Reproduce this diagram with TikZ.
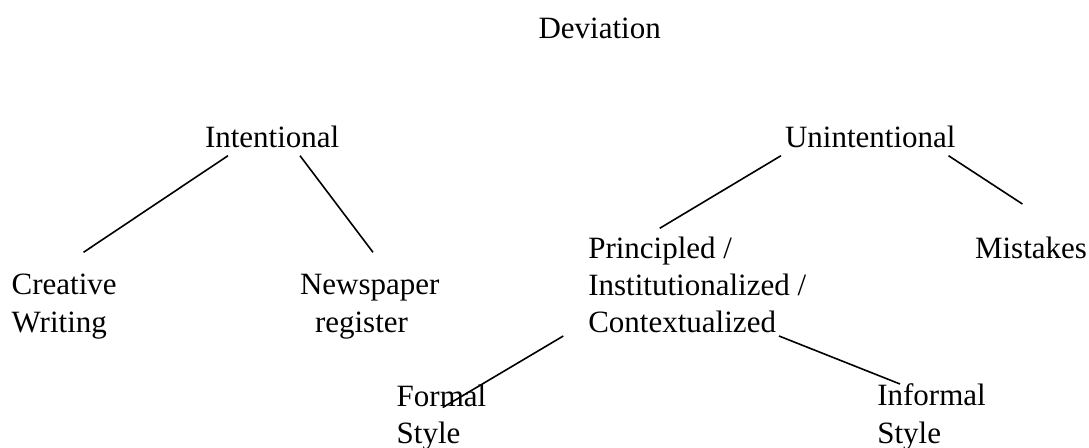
\documentclass[tikz,border=0pt]{standalone}
\usepackage{fontspec}
\setmainfont{Liberation Serif}
\usetikzlibrary{calc}
\tikzset{
  txt/.style={inner sep=0pt, outer sep=0pt, anchor=base west, font=\fontsize{31}{37.5}\selectfont},
  link/.style={line width=1.6pt, black}
}
\begin{document}
\begin{tikzpicture}[x=1pt, y=-1pt]
\useasboundingbox (0,0) rectangle (1089,447);
% nodes
\node[txt] (dev) at (538.5,38) {Deviation};
\node[txt] (int) at (205,147) {Intentional};
\node[txt] (unint) at (785,147) {Unintentional};
\node[txt] (cre) at (11.7,294) {Creative};
\node[txt] (wri) at (11.7,332) {Writing};
\node[txt] (news) at (300,294) {Newspaper};
\node[txt] (reg) at (315,332) {register};
\node[txt] (pri) at (588.3,258) {Principled /};
\node[txt] (ins) at (588.3,295) {Institutionalized /};
\node[txt] (con) at (588.3,332) {Contextualized};
\node[txt] (mis) at (975,258) {Mistakes};
\node[txt] (frm) at (396.7,406) {Formal};
\node[txt] (fsty) at (396.7,443.5) {Style};
\node[txt] (inf) at (877.3,405.5) {Informal};
\node[txt] (isty) at (877.3,443.5) {Style};
% connectors
\draw[link] ($(int.base west)+(23,8.7)$) -- ($(cre.base west)+(71.8,-41.7)$);
\draw[link] ($(int.base west)+(95,8.7)$) -- ($(news.base west)+(73,-41.7)$);
\draw[link] ($(unint.base west)+(-4,8.7)$) -- ($(pri.base west)+(71.4,-29.7)$);
\draw[link] ($(unint.base west)+(163.5,8.7)$) -- ($(mis.base west)+(47.4,-54)$);
\draw[link] ($(con.base west)+(-25,4)$) -- ($(frm.base west)+(46,1.5)$);
\draw[link] ($(con.base west)+(190.7,4)$) -- ($(inf.base west)+(22.7,-21.5)$);
\end{tikzpicture}
\end{document}
